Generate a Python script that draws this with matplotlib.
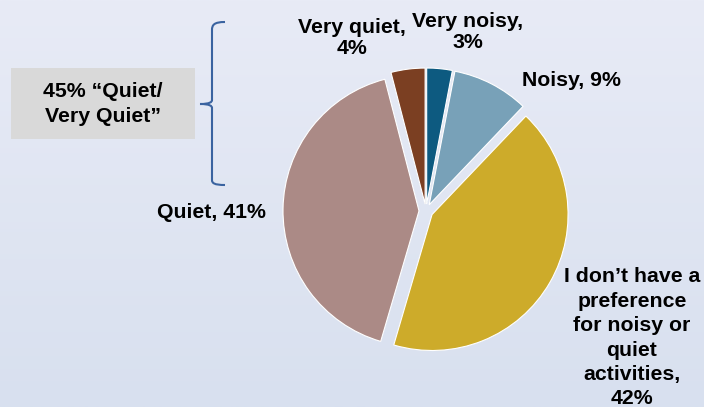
import numpy as np
import matplotlib.pyplot as plt
from matplotlib.patches import Rectangle
from matplotlib.path import Path
from matplotlib.patches import PathPatch

plt.rcParams['font.family'] = ['Liberation Sans', 'DejaVu Sans']

# data
categories = ['Very noisy', 'Noisy', 'I don\u2019t have a preference for noisy or quiet activities',
              'Quiet', 'Very quiet']
shares = [3, 9, 42, 41, 4]
slice_colors = ['#0d5a80', '#78a1b8', '#cdab2a', '#ab8a86', '#7b3f22']
label_texts = ['Very noisy,\n3%', 'Noisy, 9%',
               'I don\u2019t have a\npreference\nfor noisy or\nquiet\nactivities,\n42%',
               'Quiet, 41%', 'Very quiet,\n4%']
group_label = '45% \u201cQuiet/\nVery Quiet\u201d'

W, H = 704, 407
fig = plt.figure(figsize=(W / 100, H / 100), dpi=100)
ax = fig.add_axes([0, 0, 1, 1])

# background gradient
grad = np.linspace(0, 1, 256).reshape(-1, 1)
top = np.array([232, 235, 246]) / 255
bot = np.array([216, 224, 239]) / 255
img = top[None, None, :] * (1 - grad[:, :, None]) + bot[None, None, :] * grad[:, :, None]
ax.imshow(img, extent=[0, W, 0, H], aspect='auto', zorder=0)

def py(y):
    return H - y

cx, cy, r = 426, py(211), 136
# explode is in data units here (pixels)
ax.pie(shares, colors=slice_colors, startangle=90, counterclock=False,
       explode=[7] * len(shares), radius=r, center=(cx, cy),
       wedgeprops=dict(edgecolor='white', linewidth=0.8), frame=True)

fs = 15.3
# slice labels
label_pos = [(468, 32), (571, 80), (632, 338), (211, 212), (352, 38)]
label_spacing = [1.17, 1.17, 1.36, 1.17, 1.17]
for txt, (x, y), ls in zip(label_texts, label_pos, label_spacing):
    ax.text(x, py(y), txt, ha='center', va='center', fontsize=fs,
            fontweight='bold', color='black', linespacing=ls)

# grouped box
ax.add_patch(Rectangle((11, py(139)), 184, 71, facecolor='#d9d9d9',
                       edgecolor='none', zorder=2))
ax.text(103, py(104), group_label, ha='center', va='center', fontsize=fs,
        fontweight='bold', color='black', linespacing=1.36, zorder=3)

# brace
verts = [(225, 22), (214, 22), (212, 25), (212, 30),
         (212, 100), (212, 102), (210, 104), (200, 104),
         (210, 104), (212, 106), (212, 108),
         (212, 180), (212, 183), (214, 185), (225, 185)]
codes = [Path.MOVETO, Path.CURVE4, Path.CURVE4, Path.CURVE4,
         Path.LINETO, Path.CURVE4, Path.CURVE4, Path.CURVE4,
         Path.CURVE4, Path.CURVE4, Path.CURVE4,
         Path.LINETO, Path.CURVE4, Path.CURVE4, Path.CURVE4]
verts = [(x, py(y)) for x, y in verts]
ax.add_patch(PathPatch(Path(verts, codes), facecolor='none',
                       edgecolor='#3a63a0', linewidth=1.5, zorder=3))

ax.set_xlim(0, W)
ax.set_ylim(0, H)
ax.set_aspect('auto')
ax.axis('off')

fig.savefig('out.png', dpi=100)
